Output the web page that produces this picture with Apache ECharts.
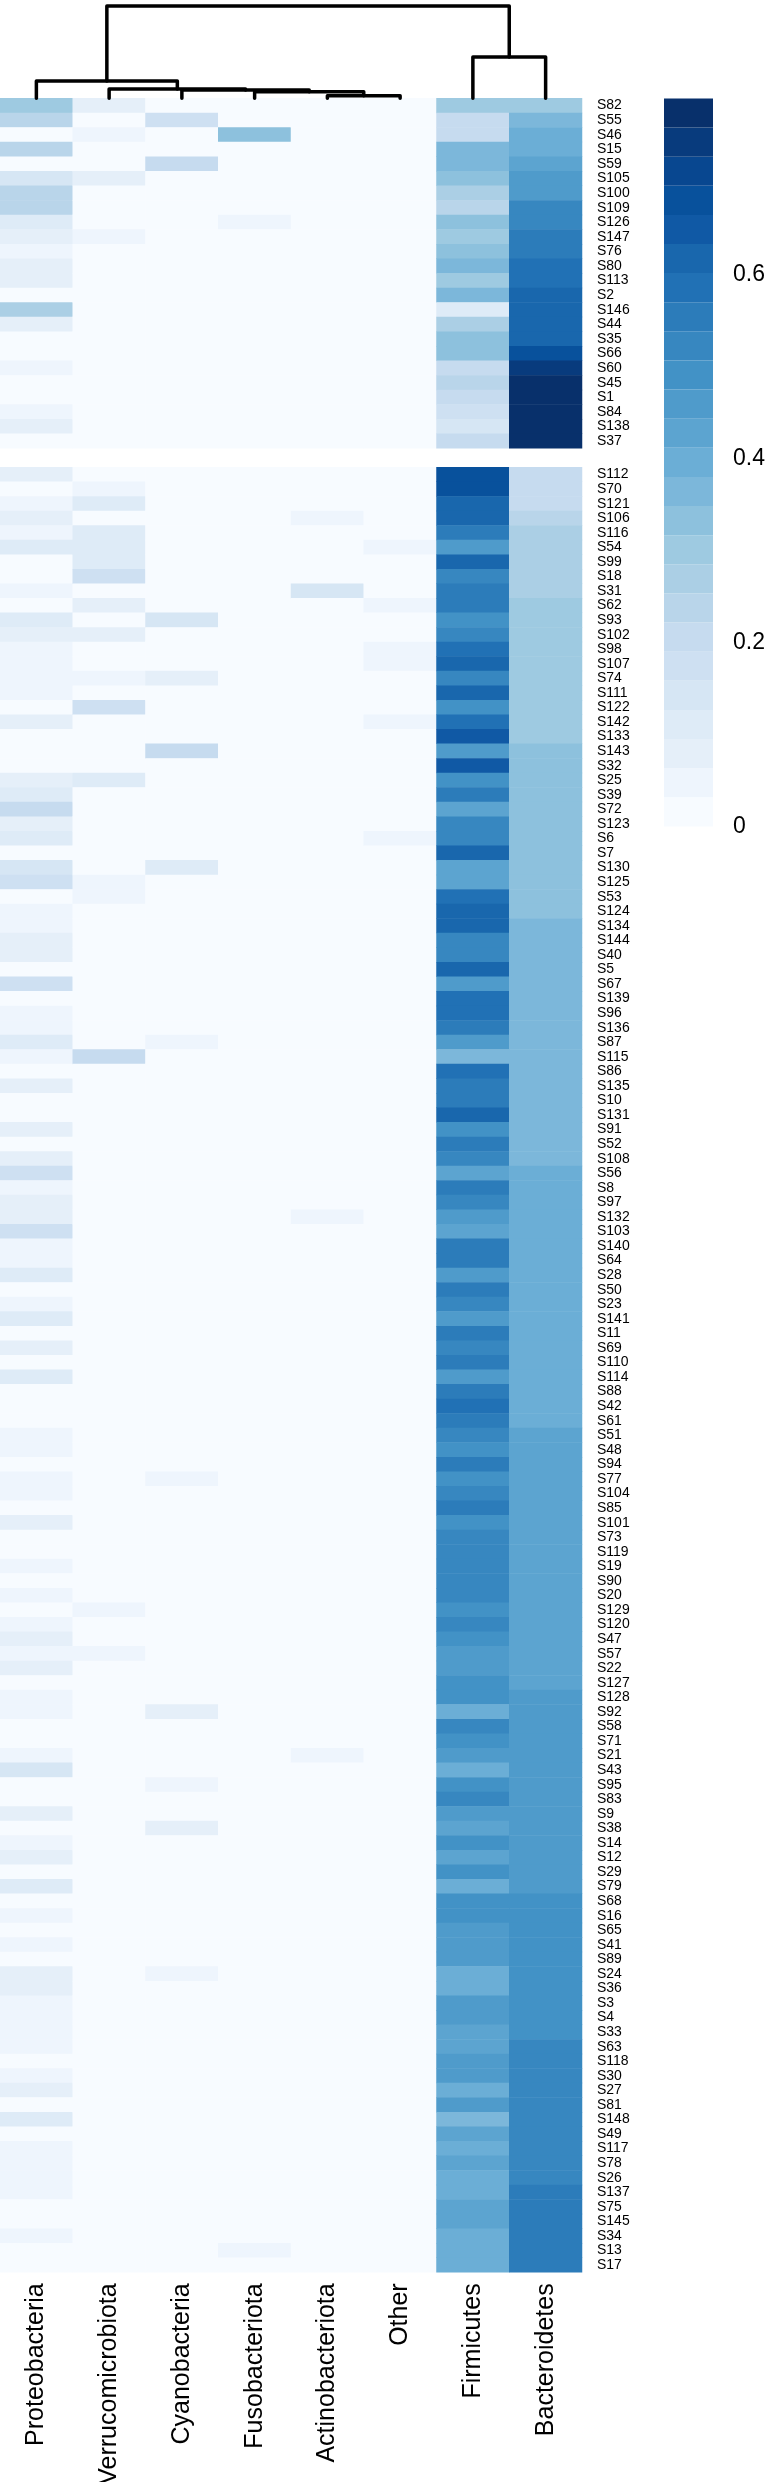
<!DOCTYPE html>
<html>
<head>
<meta charset="utf-8">
<script src="https://cdn.jsdelivr.net/npm/echarts@6/dist/echarts.min.js"></script>
<style>
  html, body { margin: 0; padding: 0; background: #fff; }
  #chart { width: 765px; height: 2482px; }
</style>
</head>
<body>
<div id="chart"></div>
<script>
const phyla = ['Proteobacteria', 'Verrucomicrobiota', 'Cyanobacteria', 'Fusobacteriota', 'Actinobacteriota', 'Other', 'Firmicutes', 'Bacteroidetes']

const samplesTop = ['S82','S55','S46','S15','S59','S105','S100','S109','S126','S147','S76','S80','S113','S2','S146','S44','S35','S66','S60','S45','S1','S84','S138','S37']
const samplesBottom = ['S112','S70','S121','S106','S116','S54','S99','S18','S31','S62','S93','S102','S98','S107','S74','S111','S122','S142','S133','S143','S32','S25','S39','S72','S123','S6','S7',
  'S130','S125','S53','S124','S134','S144','S40','S5','S67','S139','S96','S136','S87','S115','S86','S135','S10','S131','S91','S52','S108','S56','S8','S97','S132','S103','S140','S64',
  'S28','S50','S23','S141','S11','S69','S110','S114','S88','S42','S61','S51','S48','S94','S77','S104','S85','S101','S73','S119','S19','S90','S20','S129','S120','S47','S57','S22',
  'S127','S128','S92','S58','S71','S21','S43','S95','S83','S9','S38','S14','S12','S29','S79','S68','S16','S65','S41','S89','S24','S36','S3','S4','S33','S63','S118','S30',
  'S27','S81','S148','S49','S117','S78','S26','S137','S75','S145','S34','S13','S17']

// abundance per phylum, top block
const proteobacteriaTop = [.30,.24,0,.24,0,.14,.24,.24,.11,.08,.05,.08,.08,0,.27,.08,0,0,.05,0,0,.05,.08,0]
const verrucomicrobiotaTop = [.08,0,.05,0,0,.08,0,0,0,.05,0,0,0,0,0,0,0,0,0,0,0,0,0,0]
const cyanobacteriaTop = [0,.17,0,0,.21,0,0,0,0,0,0,0,0,0,0,0,0,0,0,0,0,0,0,0]
const fusobacteriotaTop = [0,0,.33,0,0,0,0,0,.05,0,0,0,0,0,0,0,0,0,0,0,0,0,0,0]
const actinobacteriotaTop = [0,0,0,0,0,0,0,0,0,0,0,0,0,0,0,0,0,0,0,0,0,0,0,0]
const otherTop = [0,0,0,0,0,0,0,0,0,0,0,0,0,0,0,0,0,0,0,0,0,0,0,0]
const firmicutesTop = [.30,.21,.21,.36,.36,.33,.27,.24,.33,.30,.33,.36,.30,.36,.11,.27,.33,.33,.21,.24,.21,.17,.14,.21]
const bacteroidetesTop = [.30,.36,.40,.40,.43,.46,.46,.52,.52,.55,.55,.59,.59,.62,.62,.62,.62,.68,.74,.78,.78,.78,.78,.78]

// abundance per phylum, bottom block
const proteobacteriaBottom = [.08,0,.05,.08,.05,.11,0,0,.05,0,.11,.08,.05,.05,.05,.05,0,.08,0,0,0,.08,.11,.21,.08,.11,0,
  .14,.17,0,.05,.05,.08,.08,0,.17,0,.05,.05,.11,.05,0,.08,0,0,.08,0,.08,.17,.05,.08,.08,.17,.05,.05,
  .11,0,.05,.11,0,.08,0,.11,0,0,0,.05,.05,0,.05,.05,0,.08,0,0,.05,0,.05,0,.05,.08,.05,.08,
  0,.05,.05,0,0,.05,.14,0,0,.08,0,.05,.08,0,.11,0,.05,0,.05,0,.08,.08,.05,.05,.05,.05,0,.05,
  .08,0,.11,0,.05,.05,.05,.05,0,0,.05,0,0]
const verrucomicrobiotaBottom = [0,.05,.11,0,.11,.11,.11,.17,0,.08,0,.08,0,0,.05,0,.17,0,0,0,0,.11,0,0,0,0,0,
  0,.05,.05,0,0,0,0,0,0,0,0,0,0,.21,0,0,0,0,0,0,0,0,0,0,0,0,0,0,
  0,0,0,0,0,0,0,0,0,0,0,0,0,0,0,0,0,0,0,0,0,0,0,.05,0,0,.05,0,
  0,0,0,0,0,0,0,0,0,0,0,0,0,0,0,0,0,0,0,0,0,0,0,0,0,0,0,0,
  0,0,0,0,0,0,0,0,0,0,0,0,0]
const cyanobacteriaBottom = [0,0,0,0,0,0,0,0,0,0,.14,0,0,0,.08,0,0,0,0,.21,0,0,0,0,0,0,0,
  .11,0,0,0,0,0,0,0,0,0,0,0,.05,0,0,0,0,0,0,0,0,0,0,0,0,0,0,0,
  0,0,0,0,0,0,0,0,0,0,0,0,0,0,.05,0,0,0,0,0,0,0,0,0,0,0,0,0,
  0,0,.08,0,0,0,0,.05,0,0,.08,0,0,0,0,0,0,0,0,0,.05,0,0,0,0,0,0,
  0,0,0,0,0,0,0,0,0,0,0,0,0,0]
const fusobacteriotaBottom = [0,0,0,0,0,0,0,0,0,0,0,0,0,0,0,0,0,0,0,0,0,0,0,0,0,0,0,
  0,0,0,0,0,0,0,0,0,0,0,0,0,0,0,0,0,0,0,0,0,0,0,0,0,0,0,0,
  0,0,0,0,0,0,0,0,0,0,0,0,0,0,0,0,0,0,0,0,0,0,0,0,0,0,0,0,
  0,0,0,0,0,0,0,0,0,0,0,0,0,0,0,0,0,0,0,0,0,0,0,0,0,0,0,0,
  0,0,0,0,0,0,0,0,0,0,0,.05,0]
const actinobacteriotaBottom = [0,0,0,.05,0,0,0,0,.14,0,0,0,0,0,0,0,0,0,0,0,0,0,0,0,0,0,0,
  0,0,0,0,0,0,0,0,0,0,0,0,0,0,0,0,0,0,0,0,0,0,0,0,.05,0,0,0,
  0,0,0,0,0,0,0,0,0,0,0,0,0,0,0,0,0,0,0,0,0,0,0,0,0,0,0,0,
  0,0,0,0,0,.05,0,0,0,0,0,0,0,0,0,0,0,0,0,0,0,0,0,0,0,0,0,0,
  0,0,0,0,0,0,0,0,0,0,0,0,0]
const otherBottom = [0,0,0,0,0,.05,0,0,0,.05,0,0,.05,.05,0,0,0,.05,0,0,0,0,0,0,0,.05,0,
  0,0,0,0,0,0,0,0,0,0,0,0,0,0,0,0,0,0,0,0,0,0,0,0,0,0,0,0,
  0,0,0,0,0,0,0,0,0,0,0,0,0,0,0,0,0,0,0,0,0,0,0,0,0,0,0,0,
  0,0,0,0,0,0,0,0,0,0,0,0,0,0,0,0,0,0,0,0,0,0,0,0,0,0,0,0,
  0,0,0,0,0,0,0,0,0,0,0,0,0]
const firmicutesBottom = [.68,.68,.62,.62,.55,.46,.62,.52,.55,.55,.49,.52,.59,.62,.52,.62,.49,.59,.65,.46,.65,.49,.55,.43,.52,.52,.62,
  .43,.43,.59,.62,.62,.52,.52,.62,.46,.59,.59,.55,.46,.36,.59,.55,.55,.62,.49,.55,.52,.43,.55,.52,.46,.43,.55,.55,
  .46,.55,.52,.46,.55,.52,.55,.46,.55,.59,.55,.52,.49,.55,.49,.52,.55,.49,.52,.52,.52,.52,.52,.49,.52,.49,.46,.46,
  .49,.49,.40,.52,.49,.46,.40,.49,.52,.46,.43,.49,.43,.49,.40,.49,.49,.46,.46,.46,.40,.40,.46,.46,.43,.43,.46,.46,
  .40,.46,.36,.43,.40,.43,.40,.40,.43,.43,.40,.40,.40]
const bacteroidetesBottom = [.21,.21,.21,.24,.27,.27,.27,.27,.27,.30,.30,.30,.30,.30,.30,.30,.30,.30,.30,.33,.33,.33,.33,.33,.33,.33,.33,
  .33,.33,.33,.33,.36,.36,.36,.36,.36,.36,.36,.36,.36,.36,.36,.36,.36,.36,.36,.36,.36,.40,.40,.40,.40,.40,.40,.40,
  .40,.40,.40,.40,.40,.40,.40,.40,.40,.40,.40,.43,.43,.43,.43,.43,.43,.43,.43,.43,.43,.43,.43,.43,.43,.43,.43,.43,
  .43,.46,.46,.46,.46,.46,.46,.46,.46,.46,.46,.46,.46,.46,.46,.49,.49,.49,.49,.49,.49,.49,.49,.49,.49,.52,.52,.52,
  .52,.52,.52,.52,.52,.52,.52,.55,.55,.55,.55,.55,.55]

const columnsTop = [proteobacteriaTop, verrucomicrobiotaTop, cyanobacteriaTop, fusobacteriotaTop, actinobacteriotaTop, otherTop, firmicutesTop, bacteroidetesTop]
const columnsBottom = [proteobacteriaBottom, verrucomicrobiotaBottom, cyanobacteriaBottom, fusobacteriotaBottom, actinobacteriotaBottom, otherBottom, firmicutesBottom, bacteroidetesBottom]

// column clustering: [left node, right node, height], nodes 0-7 are the columns
const dendroMerges = [[4, 5, 2.6], [3, 8, 6.6], [2, 9, 8.3], [1, 10, 9.3], [0, 11, 17.3], [6, 7, 41.3], [12, 13, 92.3]]

const palette = ['#F7FBFF','#EEF5FD','#E5EFF9','#DEEBF7','#D6E6F4','#CEE0F2','#C6DBEF','#B9D5EA','#ABCFE5','#9ECAE1','#8DC1DD','#7CB7DA','#6BAED6',
  '#5CA4D0','#4F9BCB','#4292C6','#3787C0','#2C7CBA','#2171B5','#1967AD','#1059A5','#08519C','#084790','#083B7D','#08306B']
const scaleMax = 0.7913

const binSize = scaleMax / palette.length

const toCells = (columns) => {
    const cells = []
    columns.forEach((col, x) => {
        col.forEach((v, y) => cells.push([x, y, v]))
    })
    return cells
}

// x position of every dendrogram node, leaves sit on their column centre
const nodes = phyla.map((name, i) => ({ x: i + 0.5, h: 0 }))
const dendroRows = dendroMerges.map(([a, b, h]) => {
    const row = [nodes[a].x, nodes[a].h, nodes[b].x, nodes[b].h, h]
    nodes.push({ x: (nodes[a].x + nodes[b].x) / 2, h })
    return row
})

const labelFont = 'Liberation Sans'

const option = {
    animation: false,
    backgroundColor: '#fff',
    // outerBoundsMode none: labels must not squeeze the grids, Verrucomicrobiota ends at the page edge
    grid: [
        { left: 0, width: 582, top: 98.3, height: 350, outerBoundsMode: 'none' },
        { left: 0, width: 582, top: 467.3, height: 1805, outerBoundsMode: 'none' },
        { left: 0, width: 582, top: 0, height: 98.3, outerBoundsMode: 'none' },
        { left: 664, width: 49, top: 98.4, height: 728, outerBoundsMode: 'none' }
    ],
    visualMap: {
        show: false,
        type: 'piecewise',
        seriesIndex: [0, 1],
        dimension: 2,
        pieces: palette.map((color, i) => ({ gte: i * binSize, lt: (i + 1) * binSize, color }))
    },
    xAxis: [
        { gridIndex: 0, type: 'category', data: phyla, show: false },
        {
            gridIndex: 1,
            type: 'category',
            data: phyla,
            axisLine: { show: false },
            axisTick: { show: false },
            axisLabel: { interval: 0, rotate: 90, margin: 11, padding: [0, 0, 3, 0], fontSize: 25, fontFamily: labelFont, color: '#000' }
        },
        { gridIndex: 2, type: 'value', min: 0, max: 8, show: false },
        { gridIndex: 3, type: 'category', data: [''], show: false }
    ],
    yAxis: [
        {
            gridIndex: 0,
            type: 'category',
            data: samplesTop,
            inverse: true,
            position: 'right',
            axisLine: { show: false },
            axisTick: { show: false },
            axisLabel: { interval: 0, margin: 15, fontSize: 14, fontFamily: labelFont, color: '#000' }
        },
        {
            gridIndex: 1,
            type: 'category',
            data: samplesBottom,
            inverse: true,
            position: 'right',
            axisLine: { show: false },
            axisTick: { show: false },
            axisLabel: { interval: 0, margin: 15, fontSize: 14, fontFamily: labelFont, color: '#000' }
        },
        { gridIndex: 2, type: 'value', min: 0, max: 98.3, show: false },
        {
            gridIndex: 3,
            type: 'value',
            min: 0,
            max: scaleMax,
            interval: 0.2,
            position: 'right',
            splitLine: { show: false },
            axisLine: { show: false },
            axisTick: { show: false },
            axisLabel: { showMaxLabel: false, margin: 20, fontSize: 23, fontFamily: labelFont, color: '#000' }
        }
    ],
    series: [
        { type: 'heatmap', xAxisIndex: 0, yAxisIndex: 0, data: toCells(columnsTop), silent: true },
        { type: 'heatmap', xAxisIndex: 1, yAxisIndex: 1, data: toCells(columnsBottom), silent: true },
        {
            type: 'custom',
            xAxisIndex: 2,
            yAxisIndex: 2,
            clip: false,
            silent: true,
            data: dendroRows,
            renderItem: (params, api) => {
                const pts = [
                    api.coord([api.value(0), api.value(1)]),
                    api.coord([api.value(0), api.value(4)]),
                    api.coord([api.value(2), api.value(4)]),
                    api.coord([api.value(2), api.value(3)])
                ]
                return {
                    type: 'polyline',
                    shape: { points: pts },
                    style: { fill: 'none', stroke: '#000', lineWidth: 3.5, lineJoin: 'round', lineCap: 'round' }
                }
            }
        }
    ].concat(palette.map((color) => ({
        type: 'bar',
        xAxisIndex: 3,
        yAxisIndex: 3,
        stack: 'scale',
        barWidth: '100%',
        silent: true,
        itemStyle: { color },
        data: [binSize]
    })))
}

const chart = echarts.init(document.getElementById('chart'), null, { renderer: 'canvas' })
chart.setOption(option)
</script>
</body>
</html>
